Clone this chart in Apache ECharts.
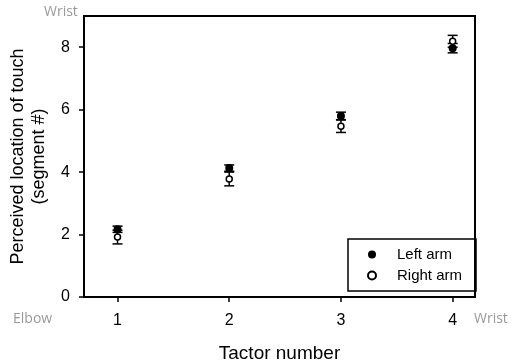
<!DOCTYPE html>
<html lang="en">

<head>
    <meta charset="UTF-8">
    <title>Perceived location of touch</title>
    <script src="https://cdn.jsdelivr.net/npm/echarts@6/dist/echarts.min.js"></script>
    <style>
        body {
            margin: 0;
        }

        #root {
            width: 512px;
            height: 364px;
        }
    </style>
</head>

<body>

    <div id="root"></div>
    <script>

        // tactor positions and mean perceived location (+/- error)
        var tactors = [1, 2, 3, 4];
        var leftMean = [2.17, 4.13, 5.80, 7.97];
        var leftErr = [0.10, 0.10, 0.12, 0.15];
        var rightMean = [1.92, 3.78, 5.47, 8.19];
        var rightErr = [0.22, 0.22, 0.20, 0.19];
        var yTicks = [0, 2, 4, 6, 8];

        var font = 'Liberation Sans, Arial, sans-serif';

        function pts(means) {
            return tactors.map(function (t, i) { return [t, means[i]]; });
        }

        function errData(means, errs) {
            return tactors.map(function (t, i) { return [t, means[i] - errs[i], means[i] + errs[i]]; });
        }

        function renderErr(params, api) {
            var lo = api.coord([api.value(0), api.value(1)]);
            var hi = api.coord([api.value(0), api.value(2)]);
            var w = 5;
            var st = { stroke: '#000', lineWidth: 1.5 };
            return {
                type: 'group',
                children: [
                    { type: 'line', shape: { x1: lo[0], y1: lo[1], x2: hi[0], y2: hi[1] }, style: st },
                    { type: 'line', shape: { x1: lo[0] - w, y1: lo[1], x2: lo[0] + w, y2: lo[1] }, style: st },
                    { type: 'line', shape: { x1: hi[0] - w, y1: hi[1], x2: hi[0] + w, y2: hi[1] }, style: st }
                ]
            };
        }

        var mychart = echarts.init(document.getElementById('root'));

        mychart.setOption({
            animation: false,
            grid: {
                left: 84, top: 16, right: 37, bottom: 67,
                outerBoundsMode: 'none',
                show: true, borderColor: '#000', borderWidth: 2
            },
            xAxis: {
                type: 'value',
                min: 0.7, max: 4.2,
                name: 'Tactor number',
                nameLocation: 'middle',
                nameGap: 47,
                nameTextStyle: { fontFamily: font, fontSize: 19, color: '#000' },
                axisLine: { onZero: false, lineStyle: { color: '#000', width: 2 } },
                axisTick: { customValues: tactors, length: 5, lineStyle: { color: '#000', width: 1.5 } },
                axisLabel: { customValues: tactors, fontFamily: font, fontSize: 16, color: '#000', margin: 16 },
                splitLine: { show: false }
            },
            yAxis: {
                type: 'value',
                min: 0, max: 9,
                name: 'Perceived location of touch\n(segment #)',
                nameLocation: 'middle',
                nameGap: 34,
                nameTextStyle: { fontFamily: font, fontSize: 18, color: '#000', lineHeight: 21 },
                axisLine: { lineStyle: { color: '#000', width: 2 } },
                axisTick: { customValues: yTicks, length: 5, lineStyle: { color: '#000', width: 1.5 } },
                axisLabel: { customValues: yTicks, fontFamily: font, fontSize: 16, color: '#000', margin: 14 },
                splitLine: { show: false }
            },
            legend: {
                left: 348, top: 239,
                orient: 'vertical',
                borderColor: '#000', borderWidth: 1.5, borderRadius: 0,
                padding: [8, 14, 8, 19],
                itemGap: 6,
                itemWidth: 8, itemHeight: 8,
                textStyle: { fontFamily: font, fontSize: 15, color: '#000', padding: [0, 0, 0, 16] },
                data: ['Left arm', 'Right arm']
            },
            graphic: [
                { type: 'text', left: 44, top: 5, style: { text: 'Wrist', fontFamily: 'Open Sans', fontSize: 14, fill: '#999' } },
                { type: 'text', left: 13, top: 312, style: { text: 'Elbow', fontFamily: 'Open Sans', fontSize: 14, fill: '#999' } },
                { type: 'text', left: 474, top: 312, style: { text: 'Wrist', fontFamily: 'Open Sans', fontSize: 14, fill: '#999' } }
            ],
            series: [{
                type: 'custom',
                renderItem: renderErr,
                data: errData(leftMean, leftErr),
                z: 1
            }, {
                type: 'custom',
                renderItem: renderErr,
                data: errData(rightMean, rightErr),
                z: 1
            }, {
                name: 'Right arm',
                type: 'scatter',
                symbol: 'circle',
                symbolSize: 6,
                itemStyle: { color: '#fff', borderColor: '#000', borderWidth: 1.5, opacity: 1 },
                data: pts(rightMean),
                z: 3
            }, {
                name: 'Left arm',
                type: 'scatter',
                symbol: 'circle',
                symbolSize: 8,
                itemStyle: { color: '#000', opacity: 1 },
                data: pts(leftMean),
                z: 4
            }]
        });

    </script>

</body>

</html>
